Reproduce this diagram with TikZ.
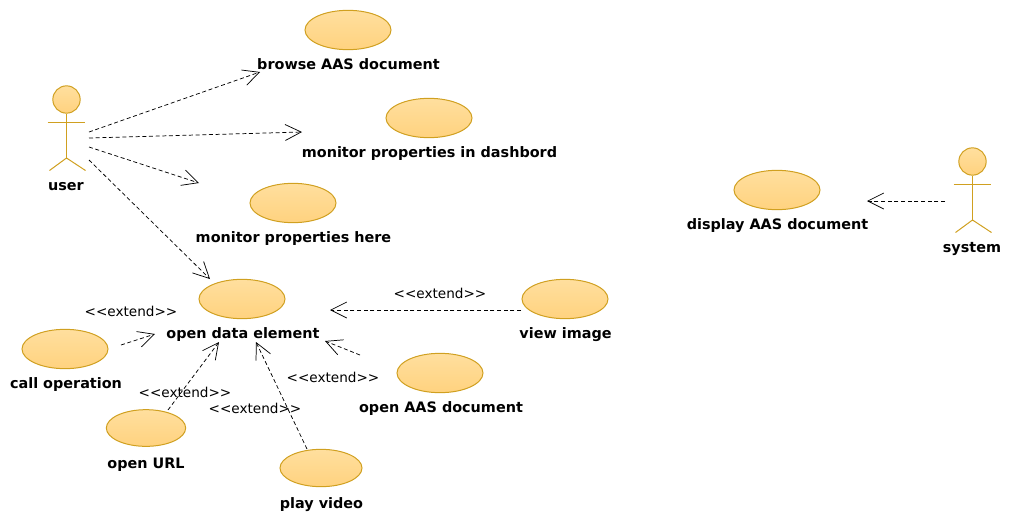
\documentclass[tikz,border=0pt]{standalone}
\usepackage{fontspec}
\setmainfont{DejaVu Sans}
\usetikzlibrary{arrows.meta,shapes.geometric}
\definecolor{ucline}{HTML}{D0A020}
\definecolor{uctop}{HTML}{FFDF9E}
\definecolor{ucbottom}{HTML}{FFD27F}
\tikzset{
	usecase/.style={draw=ucline,line width=.75pt,ellipse,top color=uctop,bottom color=ucbottom,inner sep=0pt,minimum width=64.5pt,minimum height=29.5pt},
	caselabel/.style={font=\bfseries\fontsize{10.8}{13}\selectfont,text=black,inner sep=0pt,anchor=base},
	extendlabel/.style={font=\fontsize{10.2}{12}\selectfont,text=black,inner sep=0pt,anchor=base},
	dep/.style={draw=black,line width=.55pt,dash pattern=on 3pt off 2pt,-{Straight Barb[length=12pt,width=12pt,line width=.55pt]}},
	actorfig/.pic={
		\node [circle,draw=ucline,line width=.75pt,top color=uctop,bottom color=ucbottom,minimum size=20.5pt,inner sep=0pt] (-head) at (0,0) {};
		\draw [ucline,line width=.75pt] (-head.south) -- (0,58.5);
		\draw [ucline,line width=.75pt] (-19,23) -- (18.5,23);
		\draw [ucline,line width=.75pt] (-17,71) -- (0,58.5) -- (19,71);
	}
}
\begin{document}
\begin{tikzpicture}[x=.75pt,y=-.75pt]
	\useasboundingbox (0,0) rectangle (1011,522);
	% actors
	\pic (user) at (66.5,99.5) {actorfig};
	\node [caselabel] (userlabel) at (66,190.5) {user};
	\pic (system) at (972.5,161.5) {actorfig};
	\node [caselabel] (systemlabel) at (972,252.5) {system};
	% use cases
	\node [usecase] (browse) at (348,30) {};
	\node [caselabel] (browselabel) at (348.5,69.5) {browse AAS document};
	\node [usecase] (dash) at (429,118) {};
	\node [caselabel] (dashlabel) at (429.5,157.5) {monitor properties in dashbord};
	\node [usecase] (here) at (293,203) {};
	\node [caselabel] (herelabel) at (293.5,242.5) {monitor properties here};
	\node [usecase] (element) at (242,299) {};
	\node [caselabel] (elementlabel) at (243,338.5) {open data element};
	\node [usecase] (call) at (65,349) {};
	\node [caselabel] (calllabel) at (66,388.5) {call operation};
	\node [usecase,minimum width=59.5pt,minimum height=27.5pt] (url) at (146,428) {};
	\node [caselabel] (urllabel) at (146,468.5) {open URL};
	\node [usecase,minimum width=61.5pt,minimum height=28pt] (video) at (321,468) {};
	\node [caselabel] (videolabel) at (321.5,508.5) {play video};
	\node [usecase] (aas) at (440,373) {};
	\node [caselabel] (aaslabel) at (441,412.5) {open AAS document};
	\node [usecase] (view) at (565,299) {};
	\node [caselabel] (viewlabel) at (565.5,338.5) {view image};
	\node [usecase] (display) at (777,190) {};
	\node [caselabel] (displaylabel) at (777.5,229.5) {display AAS document};
	% extend labels
	\node [extendlabel] (extcall) at (131,316) {<{}<extend>{}>};
	\node [extendlabel] (exturl) at (185,397) {<{}<extend>{}>};
	\node [extendlabel] (extvideo) at (255,413) {<{}<extend>{}>};
	\node [extendlabel] (extaas) at (333,382) {<{}<extend>{}>};
	\node [extendlabel] (extview) at (440,298) {<{}<extend>{}>};
	% connector ends
	\coordinate (userA) at (89,132);
	\coordinate (userB) at (89,138);
	\coordinate (userC) at (89,147);
	\coordinate (userD) at (89,160);
	\coordinate (browsein) at (260,72);
	\coordinate (dashin) at (302,132);
	\coordinate (herein) at (199,183);
	\coordinate (elementin) at (210,279);
	\coordinate (callout) at (121,345);
	\coordinate (callin) at (155,334);
	\coordinate (urlout) at (168,410);
	\coordinate (urlin) at (219,342);
	\coordinate (videoout) at (307,449);
	\coordinate (videoin) at (256,342);
	\coordinate (aasout) at (360,355);
	\coordinate (aasin) at (325,341);
	\coordinate (viewout) at (521,310);
	\coordinate (viewin) at (330,310);
	\coordinate (systemout) at (945,201);
	\coordinate (displayin) at (867,201);
	% connectors
	\draw [dep] (userA) -- (browsein);
	\draw [dep] (userB) -- (dashin);
	\draw [dep] (userC) -- (herein);
	\draw [dep] (userD) -- (elementin);
	\draw [dep] (callout) -- (callin);
	\draw [dep] (urlout) -- (urlin);
	\draw [dep] (videoout) -- (videoin);
	\draw [dep] (aasout) -- (aasin);
	\draw [dep] (viewout) -- (viewin);
	\draw [dep] (systemout) -- (displayin);
\end{tikzpicture}
\end{document}
